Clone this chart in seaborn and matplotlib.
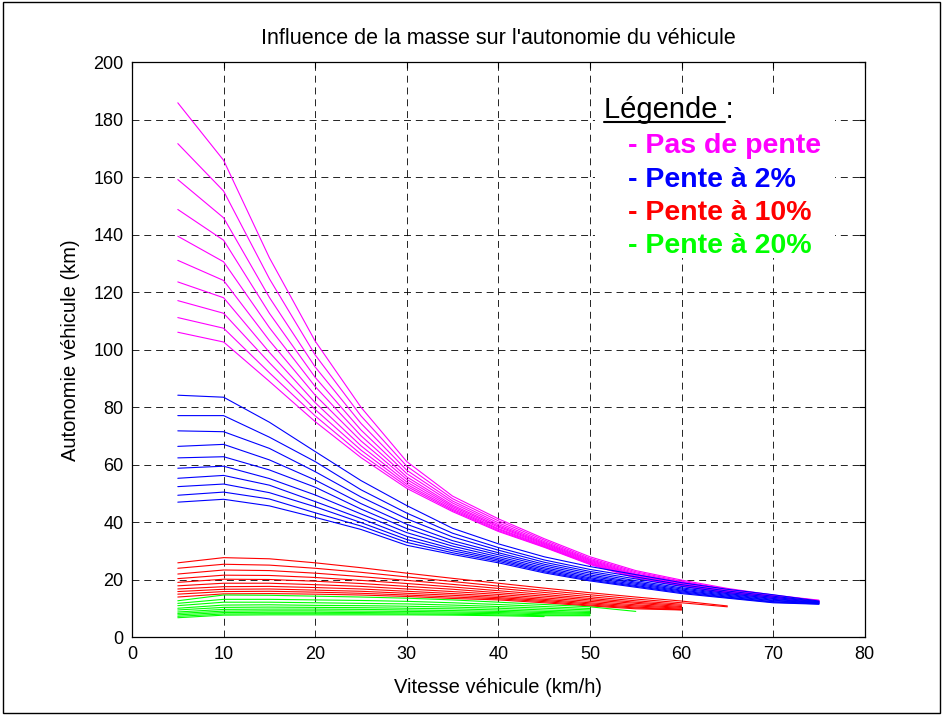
import matplotlib
matplotlib.use("Agg")
import matplotlib.pyplot as plt
from matplotlib.patches import Rectangle
from matplotlib.lines import Line2D
import seaborn as sns
import pandas as pd

# Vehicle speeds (km/h) at which the range is evaluated
vitesses = [5, 10, 15, 20, 25, 30, 35, 40, 45, 50, 55, 60, 65, 70, 75]

# Range (km), one row per speed, one column per vehicle mass (light -> heavy).
# Shorter rows: the heavier vehicles cannot reach that speed.
autonomie_pente_0 = [
    [185.9, 171.7, 159.2, 148.8, 139.5, 131.1, 123.6, 117.1, 111.2, 106.1],
    [165.9, 155.2, 145.9, 138.1, 130.6, 124.1, 118.1, 112.7, 107.5, 102.7],
    [132.0, 124.7, 118.2, 112.7, 107.7, 103.2, 99.1, 95.5, 92.0, 89.0],
    [103.0, 98.2, 94.0, 90.4, 87.2, 84.2, 81.6, 79.2, 77.0, 75.0],
    [80.0, 77.0, 74.4, 72.1, 70.1, 68.3, 66.6, 65.1, 63.7, 62.5],
    [61.1, 59.5, 58.1, 56.9, 55.8, 54.9, 54.0, 53.2, 52.5, 51.8],
    [49.1, 48.2, 47.4, 46.7, 46.0, 45.5, 45.0, 44.5, 44.1, 43.7],
    [41.2, 40.5, 39.8, 39.2, 38.7, 38.3, 37.8, 37.5, 37.1, 36.8],
    [34.3, 33.8, 33.3, 32.9, 32.6, 32.3, 32.0, 31.7, 31.5, 31.3],
    [28.0, 27.5, 27.1, 26.8, 26.5, 26.2, 25.9, 25.7, 25.5, 25.3],
    [23.2, 22.8, 22.4, 22.0, 21.7, 21.5, 21.2, 21.0, 20.8, 20.6],
    [19.9, 19.5, 19.2, 19.0, 18.7, 18.5, 18.3, 18.1, 17.9, 17.8],
    [17.0, 16.7, 16.5, 16.2, 16.0, 15.9, 15.7, 15.6, 15.4, 15.3],
    [14.7, 14.5, 14.4, 14.2, 14.1, 14.0, 13.9, 13.8, 13.7, 13.6],
    [12.9, 12.8, 12.7, 12.5, 12.5, 12.4, 12.3, 12.2, 12.2, 12.1],
]

autonomie_pente_2 = [
    [84.2, 77.1, 71.8, 66.4, 62.4, 58.8, 55.3, 52.4, 49.4, 47.0],
    [83.5, 77.1, 71.5, 67.1, 62.8, 59.5, 56.3, 53.3, 50.5, 48.0],
    [74.8, 69.6, 65.7, 61.7, 58.2, 55.2, 52.9, 50.3, 48.1, 45.7],
    [64.6, 61.1, 57.6, 54.7, 52.2, 49.5, 47.2, 45.4, 43.3, 41.7],
    [54.5, 51.3, 48.8, 46.5, 44.6, 42.9, 41.3, 39.9, 38.7, 37.5],
    [45.8, 43.2, 41.2, 39.3, 37.8, 36.4, 35.1, 34.0, 33.0, 32.0],
    [37.9, 36.2, 34.9, 33.6, 32.6, 31.7, 30.8, 30.1, 29.4, 28.8],
    [32.5, 31.2, 30.3, 29.4, 28.7, 28.0, 27.4, 26.9, 26.4, 25.9],
    [28.0, 26.9, 26.1, 25.4, 24.8, 24.2, 23.7, 23.2, 22.8, 22.4],
    [24.6, 23.6, 22.9, 22.3, 21.7, 21.2, 20.7, 20.3, 19.9, 19.6],
    [21.8, 21.0, 20.3, 19.7, 19.2, 18.8, 18.4, 18.0, 17.7, 17.4],
    [19.0, 18.3, 17.7, 17.2, 16.8, 16.4, 16.1, 15.8, 15.5, 15.2],
    [16.7, 16.1, 15.6, 15.2, 14.9, 14.6, 14.3, 14.0, 13.8, 13.6],
    [14.8, 14.3, 13.9, 13.5, 13.2, 12.9, 12.7, 12.4, 12.2, 12.0],
    [12.6, 12.4, 12.3, 12.1, 12.0, 11.9, 11.8, 11.7, 11.6, 11.5],
]

autonomie_pente_10 = [
    [25.9, 24.0, 22.0, 20.4, 19.1, 17.9, 16.8, 15.9, 15.0, 14.0],
    [27.7, 25.4, 23.4, 21.6, 20.2, 18.8, 17.6, 16.7, 15.9, 15.1],
    [27.3, 25.1, 23.2, 21.5, 20.1, 18.8, 17.7, 16.8, 16.0, 15.2],
    [25.9, 24.0, 22.3, 20.8, 19.5, 18.3, 17.3, 16.4, 15.7, 15.0],
    [24.2, 22.6, 21.1, 19.8, 18.7, 17.7, 16.8, 16.0, 15.3, 14.7],
    [22.3, 21.0, 19.8, 18.7, 17.7, 16.8, 16.0, 15.3, 14.7, 14.2],
    [20.5, 19.4, 18.4, 17.5, 16.7, 15.9, 15.2, 14.6, 14.0, 13.5],
    [18.8, 17.8, 17.0, 16.2, 15.5, 14.9, 14.3, 13.8, 13.4, 13.0],
    [17.1, 16.3, 15.6, 14.9, 14.3, 13.7, 13.2, 12.8, 12.4, 12.0],
    [15.5, 14.8, 14.1, 13.5, 13.0, 12.5, 12.0, 11.6, 11.2, 10.9],
    [14.0, 13.3, 12.7, 12.2, 11.8, 11.3, 10.9, 10.5, 10.2, 9.9],
    [12.6, 12.0, 11.5, 11.1, 10.7, 10.4, 10.1, 9.8, 9.6, 9.5],
    [10.9, 10.6],
]

autonomie_pente_20 = [
    [12.7, 11.8, 11.0, 10.1, 9.5, 8.8, 8.3, 7.8, 7.3, 6.8],
    [14.7, 13.2, 12.2, 11.2, 10.4, 9.7, 9.1, 8.6, 8.1, 7.7],
    [14.6, 13.2, 12.2, 11.3, 10.5, 9.8, 9.2, 8.7, 8.2, 7.8],
    [14.3, 13.0, 12.0, 11.1, 10.4, 9.8, 9.2, 8.7, 8.2, 7.8],
    [14.0, 12.8, 11.8, 11.0, 10.3, 9.7, 9.1, 8.6, 8.2, 7.8],
    [13.6, 12.5, 11.6, 10.8, 10.1, 9.5, 9.0, 8.5, 8.1, 7.8],
    [13.0, 12.0, 11.2, 10.5, 9.9, 9.3, 8.8, 8.4, 8.0, 7.7],
    [12.2, 11.4, 10.7, 10.1, 9.5, 9.0, 8.6, 8.2, 7.8, 7.5],
    [11.4, 10.7, 10.1, 9.5, 9.0, 8.6, 8.2, 7.8, 7.5, 7.2],
    [10.6, 10.0, 9.5, 9.0, 8.6, 8.3, 8.0, 7.7, 7.5],
    [9.0],
]

familles = ["Pas de pente", "Pente à 2%", "Pente à 10%", "Pente à 20%"]
couleurs = ["#ff00ff", "#0000ff", "#ff0000", "#00ff00"]
tableaux = [autonomie_pente_0, autonomie_pente_2, autonomie_pente_10, autonomie_pente_20]

rows = []
for nom, tab in zip(familles, tableaux):
    for v, ligne in zip(vitesses, tab):
        for m, val in enumerate(ligne):
            rows.append({"vitesse": v, "autonomie": val, "famille": nom,
                         "courbe": f"{nom}-{m}"})
df = pd.DataFrame(rows)

sns.set_theme(style="white")
plt.rcParams["font.family"] = ["Liberation Sans", "DejaVu Sans"]
plt.rcParams["lines.scale_dashes"] = False
plt.rcParams["text.color"] = "black"
plt.rcParams["axes.labelcolor"] = "black"
plt.rcParams["axes.titlecolor"] = "black"

fig = plt.figure(figsize=(9.43, 7.15), dpi=100)
fig.patch.set_facecolor("white")
ax = fig.add_axes([0.140, 0.1087, 0.777, 0.8042])
ax.set_axisbelow(True)

sns.lineplot(data=df, x="vitesse", y="autonomie", hue="famille",
             units="courbe", estimator=None, sort=True,
             palette=dict(zip(familles, couleurs)), hue_order=familles,
             linewidth=0.8, legend=False, ax=ax)

ax.set_xlim(0, 80)
ax.set_ylim(0, 200)
ax.set_xticks(range(0, 81, 10))
ax.set_yticks(range(0, 201, 20))
ax.grid(True, color="black", linestyle=(0, (5, 3.5)), linewidth=0.6)
for s in ax.spines.values():
    s.set_color("black")
    s.set_linewidth(0.9)
    s.set_zorder(5)
ax.tick_params(direction="in", length=4, width=0.8, colors="black",
               labelsize=13, top=True, right=True, pad=6)

ax.set_xlabel("Vitesse véhicule (km/h)", fontsize=14.5, labelpad=11,
              color="black")
ax.set_ylabel("Autonomie véhicule (km)", fontsize=14.5, labelpad=10,
              color="black")
ax.set_title("Influence de la masse sur l'autonomie du véhicule",
             fontsize=15.5, pad=13, color="black")

# Hand-written legend on a white patch that hides the grid behind it
ax.add_patch(Rectangle((50.6, 131.9), 26.2, 57.2, facecolor="white",
                       edgecolor="none", zorder=1))
t_leg = ax.text(51.5, 180.5, "Légende :", fontsize=21, color="black",
                va="baseline", ha="left", zorder=3)
y_items = [168.3, 156.7, 145.1, 133.8]
for nom, c, y in zip(familles, couleurs, y_items):
    ax.text(54.2, y, "- " + nom, fontsize=20.5, fontweight="bold", color=c,
            va="baseline", ha="left", zorder=3)

fig.canvas.draw()
bb = t_leg.get_window_extent()
inv = fig.transFigure.inverted()
base_px = ax.transData.transform((51.5, 180.5))[1]
x0, y0 = inv.transform((bb.x0, base_px - 4))
x1, _ = inv.transform((bb.x1 - 8, base_px - 4))
fig.add_artist(Line2D([x0, x1], [y0, y0], transform=fig.transFigure,
                      color="black", linewidth=1.5))

# Outer frame of the figure
fig.add_artist(Rectangle((0.003, 0.003), 0.994, 0.994, transform=fig.transFigure,
                         fill=False, edgecolor="black", linewidth=1.0))

fig.savefig("out.png", dpi=100, facecolor="white")
